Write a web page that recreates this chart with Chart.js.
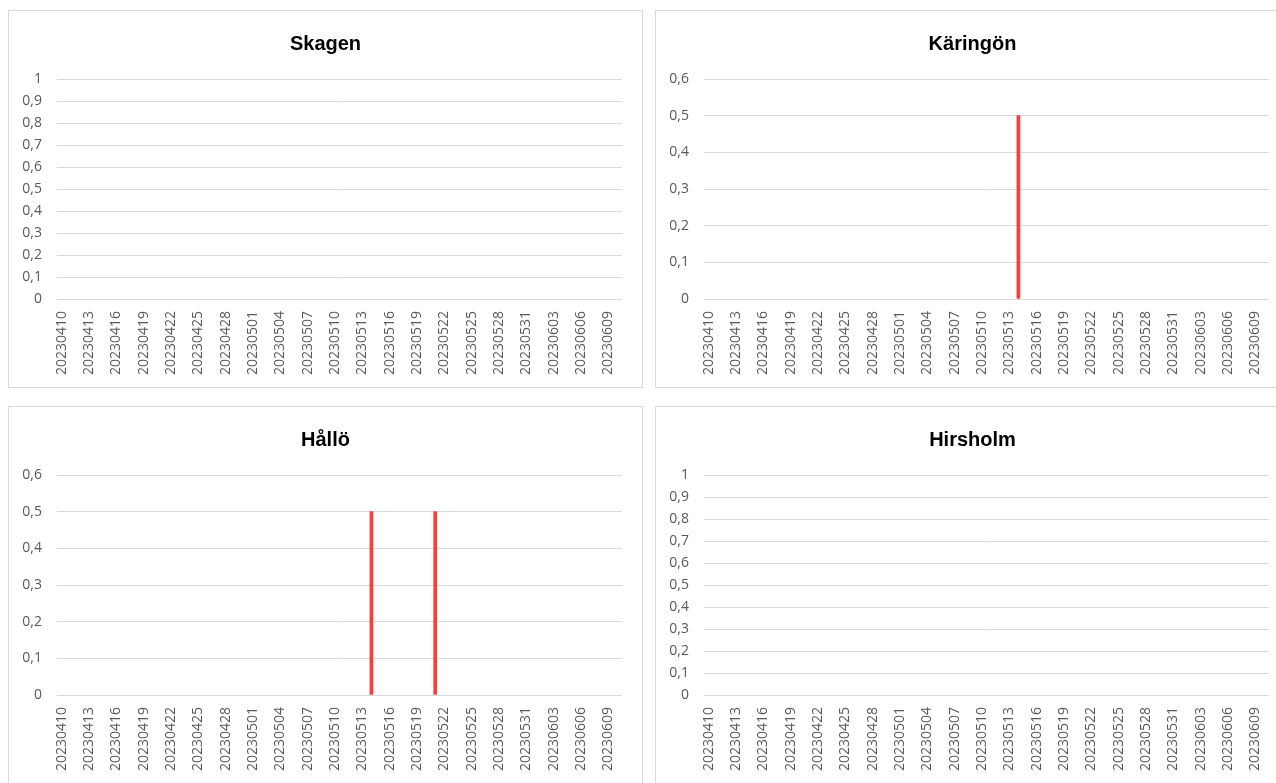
<!DOCTYPE html>
<html>
<head>
<meta charset="utf-8">
<script src="https://cdn.jsdelivr.net/npm/chart.js@4"></script>
<style>
  body { margin: 0; background: #fff; overflow: hidden; width: 1276px; height: 783px; position: relative; }
  .box { position: absolute; width: 635px; height: 378px; border: 1px solid #d9d9d9; box-sizing: border-box; background: #fff; }
  .box canvas { display: block; }
</style>
</head>
<body>

<div class="box" style="left:8px; top:10px;"><canvas id="skagen" width="633" height="376"></canvas></div>
<div class="box" style="left:655px; top:10px;"><canvas id="karingon" width="633" height="376"></canvas></div>
<div class="box" style="left:8px; top:406px;"><canvas id="hallo" width="633" height="376"></canvas></div>
<div class="box" style="left:655px; top:406px;"><canvas id="hirsholm" width="633" height="376"></canvas></div>

<script>
// dagar (kategorier)
const datum = [
  '20230410','20230411','20230412','20230413','20230414','20230415','20230416','20230417','20230418','20230419',
  '20230420','20230421','20230422','20230423','20230424','20230425','20230426','20230427','20230428','20230429',
  '20230430','20230501','20230502','20230503','20230504','20230505','20230506','20230507','20230508','20230509',
  '20230510','20230511','20230512','20230513','20230514','20230515','20230516','20230517','20230518','20230519',
  '20230520','20230521','20230522','20230523','20230524','20230525','20230526','20230527','20230528','20230529',
  '20230530','20230531','20230601','20230602','20230603','20230604','20230605','20230606','20230607','20230608',
  '20230609','20230610'
]

// fynd per station (datum + värde)
const skagen_datum = []
const skagen_varden = []

const karingon_datum = ['20230514']
const karingon_varden = [0.5]

const hallo_datum = ['20230514','20230521']
const hallo_varden = [0.5, 0.5]

const hirsholm_datum = []
const hirsholm_varden = []

// y-axlar
const ymax_skagen = 1
const ymax_karingon = 0.6
const ymax_hallo = 0.6
const ymax_hirsholm = 1

Chart.defaults.font.family = "'Open Sans', sans-serif"
Chart.defaults.font.size = 14
Chart.defaults.color = '#595959'
Chart.defaults.animation = false

function serie(d, v) {
  const out = datum.map(() => null)
  d.forEach((x, i) => {
    const idx = datum.indexOf(x)
    if (idx >= 0) out[idx] = v[i]
  })
  return out
}

function rita(id, titel, d, v, ymax) {
  new Chart(document.getElementById(id), {
    type: 'bar',
    data: {
      labels: datum,
      datasets: [{
        data: serie(d, v),
        backgroundColor: '#ff3b3b',
        barThickness: 3
      }]
    },
    options: {
      responsive: false,
      layout: { padding: 0 },
      plugins: {
        legend: { display: false },
        tooltip: { enabled: false },
        title: {
          display: true,
          text: titel,
          color: '#000',
          font: { family: "'Liberation Sans', Arial, sans-serif", size: 20, weight: 'bold', lineHeight: 1.2 },
          padding: { top: 21, bottom: 23 }
        }
      },
      scales: {
        x: {
          grid: { display: false, drawTicks: false },
          border: { display: false },
          ticks: {
            autoSkip: false,
            minRotation: 90,
            maxRotation: 90,
            padding: 12,
            callback: function(val, i) { return i % 3 === 0 ? datum[i] : '' }
          },
          afterFit: function(s) {
            s.height = 88
            s.paddingLeft = 0
            s.paddingRight = 0
          }
        },
        y: {
          min: 0,
          max: ymax,
          grid: { color: '#d9d9d9', drawTicks: false },
          border: { display: false },
          ticks: {
            stepSize: 0.1,
            padding: 15,
            callback: function(val) { return String(Math.round(val * 10) / 10).replace('.', ',') }
          },
          afterFit: function(s) { s.width = 48 }
        },
        // tom axel till höger, bara för marginalen
        hoger: {
          position: 'right',
          grid: { display: false, drawTicks: false },
          border: { display: false },
          ticks: { display: false },
          afterFit: function(s) { s.width = 20 }
        }
      }
    }
  })
}

rita('skagen', 'Skagen', skagen_datum, skagen_varden, ymax_skagen)
rita('karingon', 'Käringön', karingon_datum, karingon_varden, ymax_karingon)
rita('hallo', 'Hållö', hallo_datum, hallo_varden, ymax_hallo)
rita('hirsholm', 'Hirsholm', hirsholm_datum, hirsholm_varden, ymax_hirsholm)
</script>
</body>
</html>
